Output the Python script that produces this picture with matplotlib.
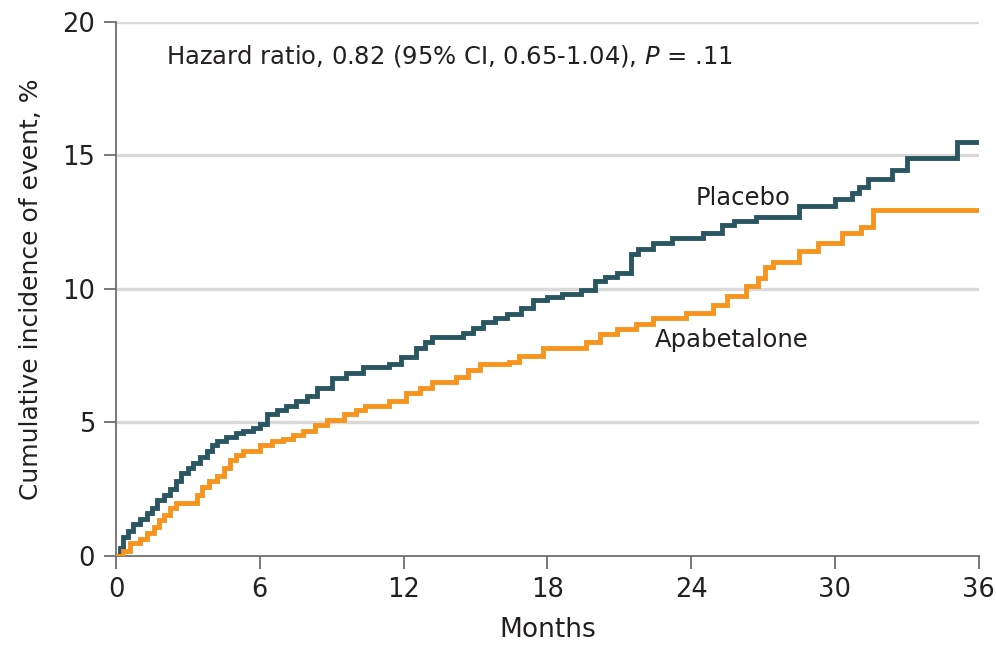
import matplotlib.pyplot as plt

# === DATA ===
placebo_months = [0, 0.15, 0.3, 0.5, 0.7, 1.0, 1.3, 1.5, 1.7, 2.0, 2.25, 2.5, 2.7, 3.0, 3.2,
                  3.5, 3.8, 4.0, 4.2, 4.6, 5.0, 5.3, 5.7, 6.0, 6.3, 6.7, 7.1, 7.5, 7.95, 8.4,
                  9.0, 9.6, 10.3, 11.4, 11.9, 12.5, 12.9, 13.2, 14.5, 14.9, 15.3, 15.8, 16.3,
                  16.9, 17.4, 18.0, 18.6, 19.4, 20.0, 20.4, 20.9, 21.5, 21.8, 22.4, 23.2, 24.5,
                  25.3, 25.8, 26.7, 28.5, 30.0, 30.7, 31.0, 31.4, 32.4, 33.0, 35.1, 36.0]
placebo_pct = [0.0, 0.3, 0.7, 0.95, 1.2, 1.4, 1.6, 1.8, 2.1, 2.3, 2.5, 2.8, 3.1, 3.3, 3.5,
               3.7, 3.95, 4.15, 4.3, 4.45, 4.6, 4.7, 4.8, 4.95, 5.3, 5.45, 5.6, 5.8, 6.0, 6.3,
               6.65, 6.85, 7.07, 7.2, 7.45, 7.8, 8.0, 8.2, 8.35, 8.55, 8.75, 8.9, 9.07,
               9.3, 9.57, 9.7, 9.8, 9.95, 10.3, 10.45, 10.6, 11.3, 11.5, 11.7, 11.9, 12.1,
               12.4, 12.55, 12.7, 13.1, 13.35, 13.6, 13.8, 14.1, 14.45, 14.9, 15.5, 15.5]

apab_months = [0, 0.3, 0.6, 1.0, 1.3, 1.6, 1.8, 2.0, 2.25, 2.5, 3.2, 3.4, 3.6, 3.9, 4.2,
               4.5, 4.75, 5.0, 5.3, 6.0, 6.5, 6.95, 7.4, 7.8, 8.3, 8.8, 9.5, 10.0, 10.4, 11.4,
               12.1, 12.7, 13.2, 14.2, 14.7, 15.2, 16.4, 16.8, 17.8, 19.0, 19.6, 20.2, 20.9,
               21.7, 22.4, 23.8, 24.9, 25.5, 26.3, 26.8, 27.1, 27.4, 28.5, 29.3, 30.3, 31.1,
               31.6, 36.0]
apab_pct = [0.0, 0.2, 0.5, 0.65, 0.85, 1.1, 1.35, 1.55, 1.8, 2.0, 2.0, 2.3, 2.6, 2.8, 3.0,
            3.3, 3.6, 3.8, 3.95, 4.15, 4.3, 4.4, 4.55, 4.7, 4.9, 5.1, 5.3, 5.45, 5.6, 5.8,
            6.1, 6.3, 6.5, 6.7, 6.95, 7.2, 7.25, 7.5, 7.8, 7.8, 8.0, 8.3, 8.5,
            8.7, 8.9, 9.1, 9.4, 9.75, 10.1, 10.4, 10.8, 11.0, 11.4, 11.7, 12.1, 12.3,
            12.95, 12.95]

x_ticks = [0, 6, 12, 18, 24, 30, 36]
y_ticks = [0, 5, 10, 15, 20]

# === STYLE ===
PLACEBO_COLOR = "#2a5661"
APAB_COLOR = "#f7941d"
TEXT_COLOR = "#231f20"
AXIS_COLOR = "#6d6e71"
GRID_COLOR = "#d9d9d9"

plt.rcParams["font.family"] = ["DejaVu Sans"]

fig = plt.figure(figsize=(9.96, 6.52), dpi=100)
ax = fig.add_axes([0.1165, 0.147, 0.866, 0.820])

# === PLOT ===
ax.plot(placebo_months, placebo_pct, drawstyle="steps-post", color=PLACEBO_COLOR,
        linewidth=3.5, solid_joinstyle="miter", zorder=3)
ax.plot(apab_months, apab_pct, drawstyle="steps-post", color=APAB_COLOR,
        linewidth=3.5, solid_joinstyle="miter", zorder=3)

ax.set_xlim(0, 36)
ax.set_ylim(0, 20)
ax.set_xticks(x_ticks)
ax.set_yticks(y_ticks)
ax.tick_params(axis="both", direction="out", length=9, width=1.3, color=AXIS_COLOR,
               labelsize=18.5, labelcolor=TEXT_COLOR, pad=6)

for y in y_ticks[1:]:
    ax.axhline(y, color=GRID_COLOR, linewidth=2.4, zorder=1)

for side in ("top", "right"):
    ax.spines[side].set_visible(False)
for side in ("left", "bottom"):
    ax.spines[side].set_color(AXIS_COLOR)
    ax.spines[side].set_linewidth(1.3)

ax.set_xlabel("Months", fontsize=19, color=TEXT_COLOR, labelpad=10)
ax.set_ylabel("Cumulative incidence of event, %", fontsize=18, color=TEXT_COLOR, labelpad=14)

ax.text(2.1, 18.7, "Hazard ratio, 0.82 (95% CI, 0.65-1.04), $\\it{P}$ = .11",
        fontsize=17.5, color=TEXT_COLOR, va="center", ha="left")
ax.text(24.2, 13.4, "Placebo", fontsize=17.5, color=TEXT_COLOR, va="center", ha="left")
ax.text(22.5, 8.1, "Apabetalone", fontsize=17.5, color=TEXT_COLOR, va="center", ha="left")

fig.savefig("out.png", dpi=100)
